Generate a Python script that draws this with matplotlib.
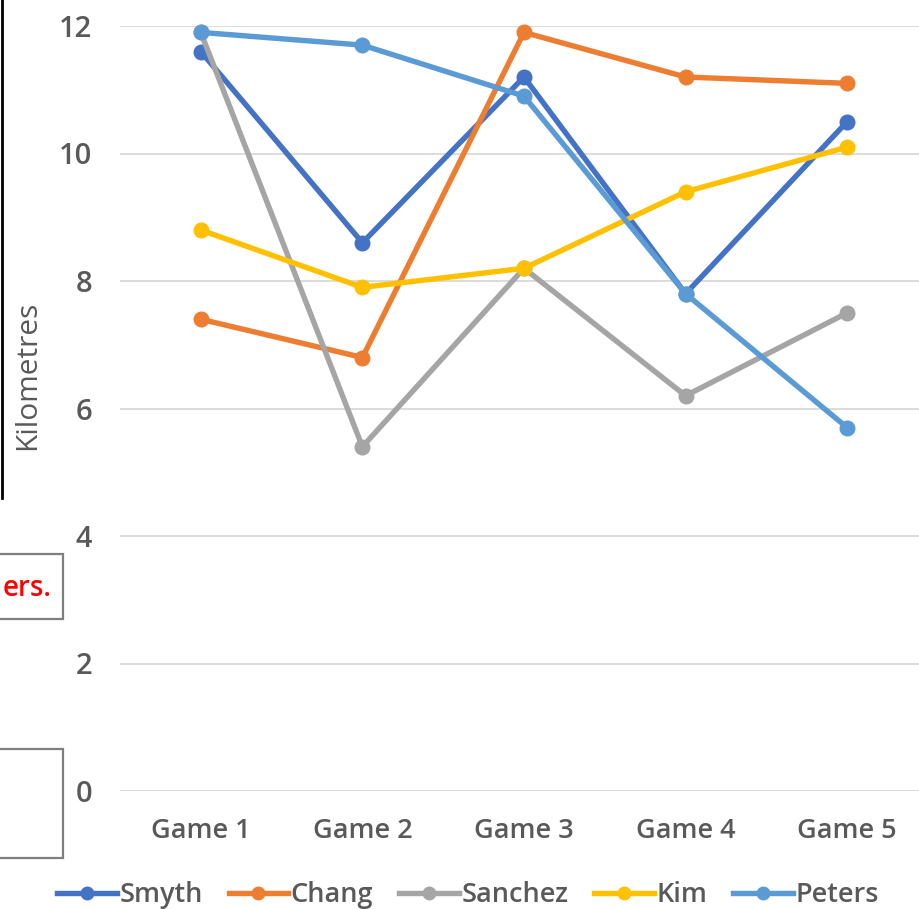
import matplotlib
matplotlib.use("Agg")
import matplotlib.pyplot as plt
from matplotlib.lines import Line2D
from matplotlib.patches import Rectangle

# distance covered per player, km
games = ["Game 1", "Game 2", "Game 3", "Game 4", "Game 5"]
smyth = [11.6, 8.6, 11.2, 7.8, 10.5]
chang = [7.4, 6.8, 11.9, 11.2, 11.1]
sanchez = [11.9, 5.4, 8.2, 6.2, 7.5]
kim = [8.8, 7.9, 8.2, 9.4, 10.1]
peters = [11.9, 11.7, 10.9, 7.8, 5.7]
yticks = [0, 2, 4, 6, 8, 10, 12]

series = [
    ("Smyth", smyth, "#4472C4"),
    ("Chang", chang, "#ED7D31"),
    ("Sanchez", sanchez, "#A5A5A5"),
    ("Kim", kim, "#FFC000"),
    ("Peters", peters, "#5B9BD5"),
]

W, H = 919, 909
TXT = "#595959"
FONT = ["Open Sans", "DejaVu Sans"]

fig = plt.figure(figsize=(W / 100, H / 100), dpi=100)
ax = fig.add_axes([120 / W, (H - 791) / H, 808 / W, 765 / H])

x = range(len(games))
for name, vals, col in series:
    ax.plot(x, vals, color=col, lw=3.9, marker="o", ms=10.5,
            solid_capstyle="round", label=name, clip_on=False, zorder=3)

ax.set_xlim(-0.5, len(games) - 0.5)
ax.set_ylim(0, 12)
ax.set_yticks(yticks)
ax.set_xticks(list(x))
ax.set_xticklabels(games)
ax.grid(axis="y", color="#D9D9D9", lw=1.3, zorder=0)
ax.set_axisbelow(True)
for s in ax.spines.values():
    s.set_visible(False)
ax.tick_params(length=0)
ax.tick_params(axis="y", pad=20, labelsize=21, labelcolor=TXT)
ax.tick_params(axis="x", pad=19, labelsize=19.5, labelcolor=TXT)
for lab in ax.get_yticklabels():
    lab.set_fontfamily(FONT)
    lab.set_fontweight("semibold")
for lab in ax.get_xticklabels():
    lab.set_fontfamily(FONT)
    lab.set_fontweight("semibold")

fig.text(28 / W, 1 - 375 / H, "Kilometres", rotation=90, ha="center",
         va="center", fontsize=21.5, color=TXT, family=FONT)

handles = [Line2D([], [], color=c, lw=3.9, marker="o", ms=9) for _, _, c in series]
leg = fig.legend(handles, [n for n, _, _ in series], loc="center",
                 bbox_to_anchor=(468 / W, 1 - 895 / H), ncol=5, frameon=False,
                 handlelength=2.2, handletextpad=0.1, columnspacing=0.95,
                 prop={"family": FONT, "size": 19.5, "weight": "semibold"})
for t in leg.get_texts():
    t.set_color(TXT)

# bits of neighbouring shapes on the left edge
fig.add_artist(Line2D([1.5 / W, 1.5 / W], [1, 1 - 498 / H], color="black", lw=2))
fig.add_artist(Rectangle((-10 / W, 1 - 619 / H), 73 / W, 65 / H,
                         transform=fig.transFigure, facecolor="white",
                         edgecolor="#7F7F7F", lw=1.6))
fig.text(52 / W, 1 - 589 / H, "ers.", ha="right", va="center", color="#FF0000",
         fontsize=20, family=FONT, weight="semibold")
fig.add_artist(Rectangle((-10 / W, 1 - 858 / H), 73 / W, 109 / H,
                         transform=fig.transFigure, facecolor="white",
                         edgecolor="#7F7F7F", lw=1.6))

fig.savefig("out.png", dpi=100)
